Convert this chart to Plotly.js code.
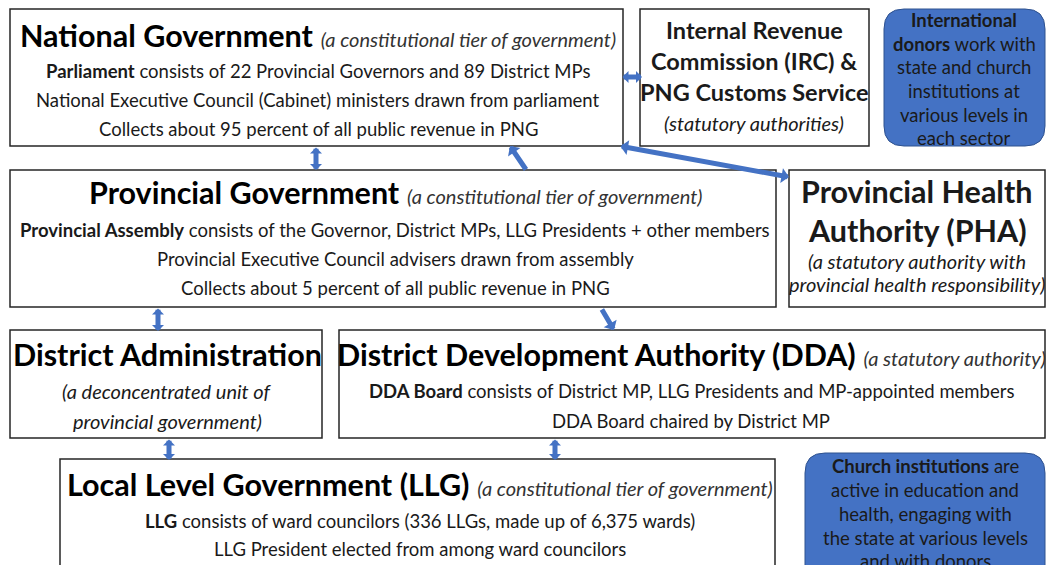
<!DOCTYPE html>
<html><head><meta charset="utf-8">
<script src="https://cdn.plot.ly/plotly-3.0.1.min.js"></script>
<style>html,body{margin:0;padding:0;background:#fff}#chart{width:1046px;height:565px}</style>
</head><body><div id="chart"></div>
<script>
// ---- content (text) ----
const boxNames = ["national","irc","donors","provincial","pha","distadmin","dda","llg","church"];
const boxTitles = [
  "National Government",
  "",
  "",
  "Provincial Government",
  "",
  "District Administration",
  "District Development Authority (DDA)",
  "Local Level Government (LLG)",
  ""
];
const boxNotes = [
  "(a constitutional tier of government)",
  "",
  "",
  "(a constitutional tier of government)",
  "",
  "",
  "(a statutory authority)",
  "(a constitutional tier of government)",
  ""
];
const boxLines = [
  ["<b>Parliament</b> consists of 22 Provincial Governors and 89 District MPs",
   "National Executive Council (Cabinet) ministers drawn from parliament",
   "Collects about 95 percent of all public revenue in PNG"],
  ["<b>Internal Revenue</b>", "<b>Commission (IRC) &amp;</b>", "<b>PNG Customs Service</b>", "<i>(statutory authorities)</i>"],
  ["<b>International</b>", "<b>donors</b> work with", "state and church", "institutions at", "various levels in", "each sector"],
  ["<b>Provincial Assembly</b> consists of the Governor, District MPs, LLG Presidents + other members",
   "Provincial Executive Council advisers drawn from assembly",
   "Collects about 5 percent of all public revenue in PNG"],
  ["<b>Provincial Health</b>", "<b>Authority (PHA)</b>", "<i>(a statutory authority with</i>", "<i>provincial health responsibility)</i>"],
  ["<i>(a deconcentrated unit of</i>", "<i>provincial government)</i>"],
  ["<b>DDA Board</b> consists of District MP, LLG Presidents and MP-appointed members",
   "DDA Board chaired by District MP"],
  ["<b>LLG</b> consists of ward councilors (336 LLGs, made up of 6,375 wards)",
   "LLG President elected from among ward councilors"],
  ["<b>Church institutions</b> are", "active in education and", "health, engaging with", "the state at various levels", "and with donors"]
];
// connections: [from, to, two-way?]
const linkFrom = ["national","national","provincial","national","provincial","provincial","distadmin","dda"];
const linkTo   = ["irc","provincial","national","pha","distadmin","dda","llg","llg"];
const linkBoth = [true,true,false,true,true,false,true,true];

// ---- layout / geometry (pixel-like axis units, y downward) ----
const R = 18.5, I = 20, H = 30.5;
const geom = {
  national:   {x0:10,  x1:623,  y0:9,   y1:146, style:"plain", cx:318, titleY:35, lineY:[71,100,129], lineSize:[R,R,R]},
  irc:        {x0:640, x1:869,  y0:9,   y1:146, style:"plain", cx:754, lineY:[30,61,92,123], lineSize:[23.5,23.5,23.5,I]},
  donors:     {x0:884, x1:1045, y0:9,   y1:146, style:"blue",  cx:964, lineY:[20,44,67,91,115,138], lineSize:[R,R,R,R,R,R]},
  provincial: {x0:10,  x1:776,  y0:170, y1:307, style:"plain", cx:395, titleY:192, lineY:[230,259,288], lineSize:[R,R,R]},
  pha:        {x0:789, x1:1045, y0:170, y1:307, style:"plain", cx:917, lineY:[191,230,261,284], lineSize:[H,H,I,I]},
  distadmin:  {x0:10,  x1:322,  y0:330, y1:438, style:"plain", cx:167, titleY:354, lineY:[391,421], lineSize:[I,I]},
  dda:        {x0:339, x1:1045, y0:330, y1:438, style:"plain", cx:691, titleY:354, lineY:[391,421], lineSize:[R,R]},
  llg:        {x0:60,  x1:775,  y0:459, y1:590, style:"plain", cx:420, titleY:484, lineY:[521,549], lineSize:[R,R]},
  church:     {x0:805, x1:1045, y0:453, y1:600, style:"blue",  cx:925, lineY:[466,490,514,538,561], lineSize:[R,R,R,R,R]}
};
const linkGeom = [
  {x:642, y:77,  ax:621, ay:77,  head:0.4},
  {x:316, y:170, ax:316, ay:146, head:0.4},
  {x:510, y:146, ax:527, ay:171, head:0.5},
  {x:789, y:177, ax:619, ay:146, head:0.5},
  {x:158, y:331, ax:158, ay:307, head:0.4},
  {x:614, y:330, ax:601, ay:308, head:0.5},
  {x:169, y:460, ax:169, ay:438, head:0.4},
  {x:555, y:460, ax:555, ay:438, head:0.4}
];

const FONT = "Lato, 'Open Sans', sans-serif";
const TITLE_SIZE = H, NOTE_SIZE = I;
const BLUE = "#4472C4", BLUE_EDGE = "#2F528F";

function roundRect(x0,y0,x1,y1,r){
  return `M${x0+r},${y0} H${x1-r} Q${x1},${y0} ${x1},${y0+r} V${y1-r} Q${x1},${y1} ${x1-r},${y1} H${x0+r} Q${x0},${y1} ${x0},${y1-r} V${y0+r} Q${x0},${y0} ${x0+r},${y0} Z`;
}

const shapes = [], annotations = [];
boxNames.forEach((name,i)=>{
  const g = geom[name];
  if (g.style === "blue") {
    shapes.push({type:"path", xref:"x", yref:"y", path:roundRect(g.x0,g.y0,g.x1,g.y1,20),
      fillcolor:BLUE, line:{color:BLUE_EDGE, width:1}});
  } else {
    shapes.push({type:"rect", xref:"x", yref:"y", x0:g.x0, x1:g.x1, y0:g.y0, y1:g.y1,
      fillcolor:"#ffffff", line:{color:"#262626", width:1.5}});
  }
  if (boxTitles[i]) {
    let t = `<b>${boxTitles[i]}</b>`;
    if (boxNotes[i]) t += ` <span style="font-size:${NOTE_SIZE}px;color:#333"><i>${boxNotes[i]}</i></span>`;
    annotations.push({xref:"x", yref:"y", x:g.cx, y:g.titleY, text:t, showarrow:false,
      xanchor:"center", yanchor:"middle", font:{family:FONT, size:TITLE_SIZE, color:"#000"}});
  }
  boxLines[i].forEach((ln,k)=>{
    annotations.push({xref:"x", yref:"y", x:g.cx, y:g.lineY[k], text:ln, showarrow:false,
      xanchor:"center", yanchor:"middle", font:{family:FONT, size:g.lineSize[k], color:"#1a1a1a"}});
  });
});
linkFrom.forEach((f,i)=>{
  const lg = linkGeom[i];
  annotations.push({xref:"x", yref:"y", axref:"x", ayref:"y", x:lg.x, y:lg.y, ax:lg.ax, ay:lg.ay,
    text:"", showarrow:true, arrowhead:1, startarrowhead:1, arrowsize:lg.head, startarrowsize:lg.head,
    arrowside: linkBoth[i] ? "end+start" : "end", arrowwidth:5, arrowcolor:BLUE, standoff:0, startstandoff:0});
});

const layout = {
  width:1046, height:565, margin:{l:0,r:0,t:0,b:0},
  paper_bgcolor:"#fff", plot_bgcolor:"#fff", showlegend:false,
  xaxis:{range:[0,1046], visible:false, fixedrange:true},
  yaxis:{range:[565,0], visible:false, fixedrange:true},
  shapes, annotations
};
Plotly.newPlot("chart", [], layout, {staticPlot:true, displayModeBar:false});
</script></body></html>
